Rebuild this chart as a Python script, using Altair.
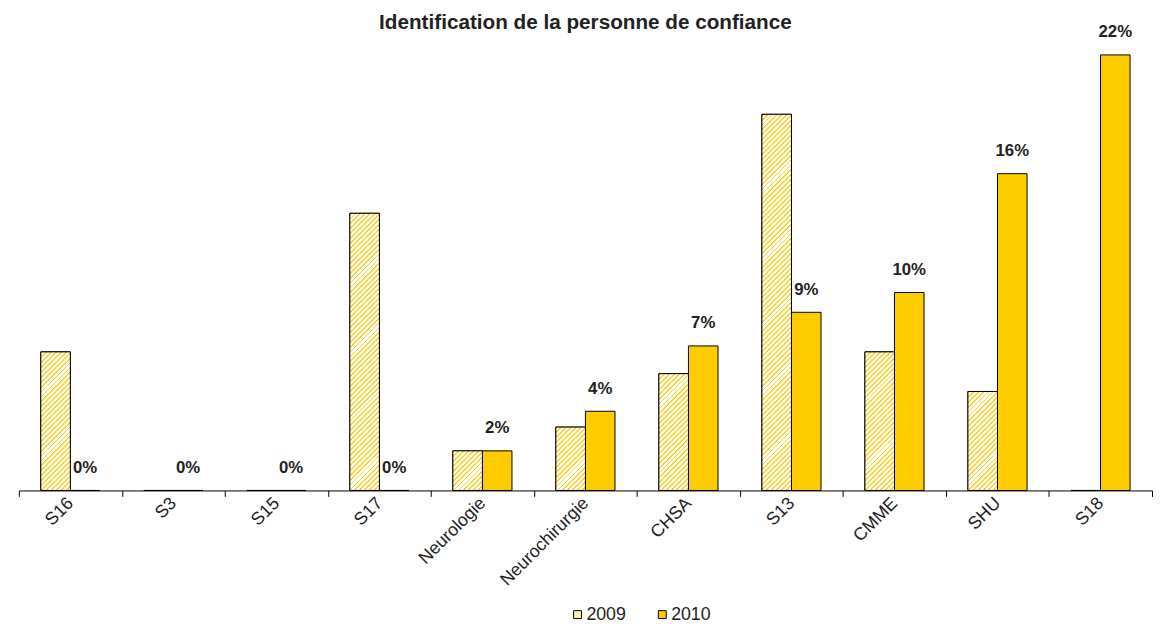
import altair as alt
import pandas as pd

categories = ["S16", "S3", "S15", "S17", "Neurologie", "Neurochirurgie",
              "CHSA", "S13", "CMME", "SHU", "S18"]
values_2009 = [7.0, 0, 0, 14.0, 2.0, 3.2, 5.9, 19.0, 7.0, 5.0, 0]
values_2010 = [0, 0, 0, 0, 2.0, 4.0, 7.3, 9.0, 10.0, 16.0, 22.0]
labels_2010 = ["0%", "0%", "0%", "0%", "2%", "4%", "7%", "9%", "10%", "16%", "22%"]
years = ["2009", "2010"]

TITLE = "Identification de la personne de confiance"
FONT = "Liberation Sans"
GOLD = "#FFCC00"
HATCH = "#FFD21F"

W = 1150
H = 442
YMAX = 22

rows = []
for c, a, b, lab in zip(categories, values_2009, values_2010, labels_2010):
    rows.append({"cat": c, "year": "2009", "value": a, "label": ""})
    rows.append({"cat": c, "year": "2010", "value": b, "label": lab})
df = pd.DataFrame(rows)

step = W / len(categories)
bar_w = 30.0
pad_outer_off = (step / bar_w - 2) / 2

x_enc = alt.X("cat:N", sort=categories,
              scale=alt.Scale(paddingInner=0, paddingOuter=0),
              axis=alt.Axis(title=None, labelAngle=-45, labelAlign="right",
                            labelBaseline="middle", labelFontSize=18,
                            labelFont=FONT, labelColor="#222222",
                            labelPadding=4,
                            tickBand="extent", tickSize=6, tickColor="#000000",
                            domainColor="#000000", grid=False))
xo_enc = alt.XOffset("year:N", scale=alt.Scale(domain=years, paddingInner=0,
                                                 paddingOuter=pad_outer_off))
y_enc = alt.Y("value:Q", scale=alt.Scale(domain=[0, YMAX], nice=False, zero=True),
              axis=None)

base = alt.Chart(df).mark_bar(stroke="#000000", strokeWidth=1).encode(
    x=x_enc, xOffset=xo_enc, y=y_enc,
    color=alt.Color("year:N", scale=alt.Scale(domain=years, range=["#FFF0B0", GOLD]),
                    legend=alt.Legend(title=None, orient="none", direction="horizontal",
                                      legendX=558, legendY=559,
                                      symbolType="square", symbolSize=64,
                                      symbolStrokeColor="#000000", symbolStrokeWidth=1,
                                      labelFont=FONT, labelFontSize=18,
                                      labelColor="#222222", columnPadding=27,
                                      labelOffset=0))
)


def hatch_gradient(v):
    h = max(v / YMAX * H, 1.0)
    w = bar_w
    k = (w + h) / (w * w + h * h)
    x2 = w * k
    y2 = h * k
    period = 5.0 / (w + h)
    f = 0.38
    stops = []
    o = 0.0
    while o < 1.0:
        o1 = min(o + f * period, 1.0)
        o2 = min(o + period, 1.0)
        stops.append({"offset": round(o, 5), "color": HATCH})
        stops.append({"offset": round(o1, 5), "color": HATCH})
        stops.append({"offset": round(o1, 5), "color": "#FFFFFF"})
        stops.append({"offset": round(o2, 5), "color": "#FFFFFF"})
        o += period
    return {"gradient": "linear", "x1": 0, "y1": 0, "x2": x2, "y2": y2, "stops": stops}


layers = [base]
for c, v in zip(categories, values_2009):
    if v <= 0:
        continue
    layer = alt.Chart(df).transform_filter(
        (alt.datum.cat == c) & (alt.datum.year == "2009")
    ).mark_bar(stroke="#000000", strokeWidth=1, fill=hatch_gradient(v)).encode(
        x=alt.X("cat:N", sort=categories), xOffset=alt.XOffset("year:N"), y="value:Q"
    )
    layers.append(layer)

text = alt.Chart(df).transform_filter(alt.datum.year == "2010").mark_text(
    font=FONT, fontSize=17, fontWeight="bold", color="#222222",
    baseline="middle", dy=-23
).encode(
    x=alt.X("cat:N", sort=categories), xOffset=alt.XOffset("year:N"),
    y="value:Q", text="label:N"
)
layers.append(text)

chart = alt.layer(*layers).properties(
    width=W, height=H,
    padding={"left": 4, "top": 0, "right": 0, "bottom": 2},
    title=alt.TitleParams(TITLE, font=FONT, fontSize=21, fontWeight="bold",
                          color="#222222", offset=-10, anchor="middle", frame="group")
).configure_view(stroke=None)

chart.save("out.html", embed_options={"renderer": "svg", "actions": False})
